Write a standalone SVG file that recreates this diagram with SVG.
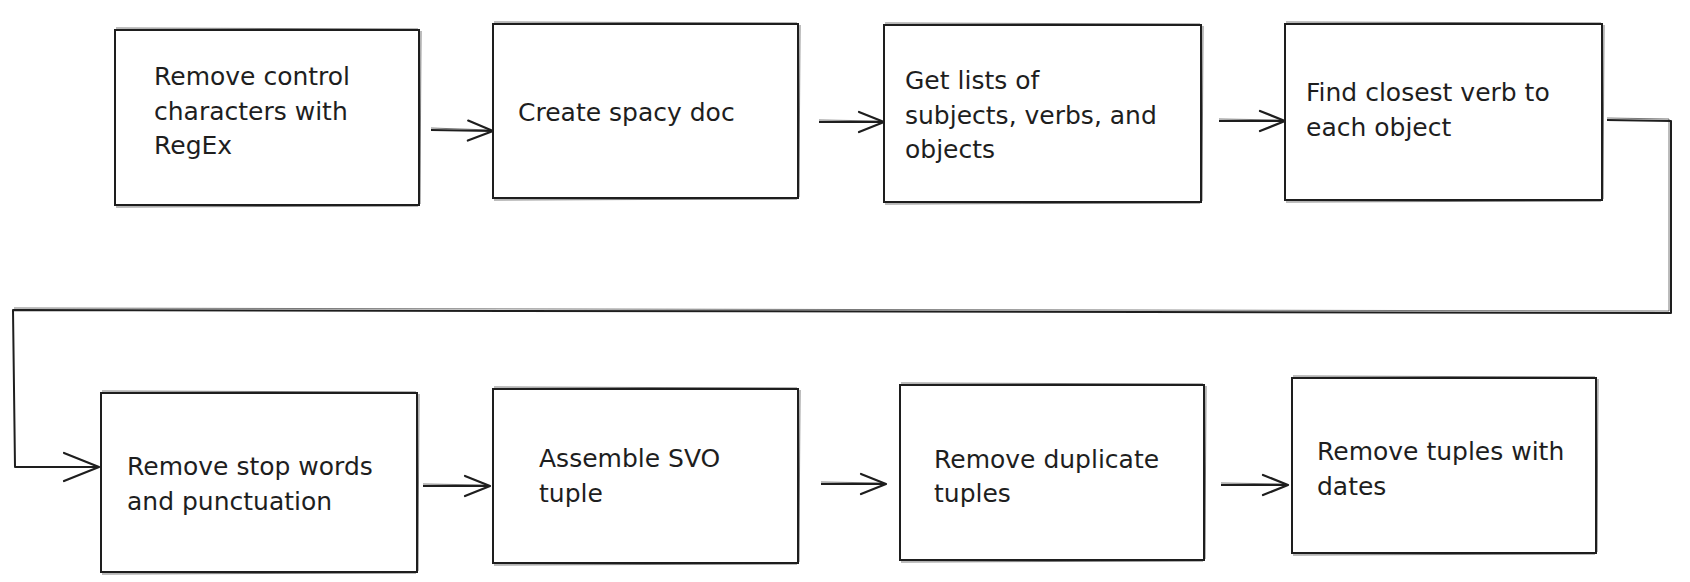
<svg xmlns="http://www.w3.org/2000/svg" width="1690" height="582" viewBox="0 0 1690 582">
<defs>
<style>
.box{fill:#fff;stroke:#1e1e1e;stroke-width:2}
.sk{fill:none;stroke:#1e1e1e;stroke-width:1;opacity:0.6}
.lbl{font-family:"DejaVu Sans","Liberation Sans",sans-serif;font-size:25px;fill:#1e1e1e}
.conn{fill:none;stroke:#1e1e1e;stroke-width:2;stroke-linejoin:round}
.conn2{fill:none;stroke:#1e1e1e;stroke-width:1;opacity:0.6}
</style>
<marker id="ah" markerWidth="30" markerHeight="26" refX="27" refY="13" orient="auto" markerUnits="userSpaceOnUse">
<path d="M2,3 L27,13 L2,23" fill="none" stroke="#1e1e1e" stroke-width="2.2" stroke-linecap="round" stroke-linejoin="round"/>
</marker>
<marker id="ahb" markerWidth="40" markerHeight="32" refX="37" refY="16" orient="auto" markerUnits="userSpaceOnUse">
<path d="M2,2 L37,16 L2,30" fill="none" stroke="#1e1e1e" stroke-width="2.2" stroke-linecap="round" stroke-linejoin="round"/>
</marker>
</defs>
<rect width="1690" height="582" fill="#fff"/>

<g id="connectors">
<path class="conn" d="M431,130 L493,131" marker-end="url(#ah)"/>
<path class="conn2" d="M431,128 L491,130"/>
<path class="conn" d="M819,122 L884,122" marker-end="url(#ah)"/>
<path class="conn2" d="M819,120 L882,121"/>
<path class="conn" d="M1219,121 L1285,121" marker-end="url(#ah)"/>
<path class="conn2" d="M1219,119 L1283,120"/>
<path class="conn" d="M1607,120 L1671,121 L1671,313 L13,310 L15,467 L99,467" marker-end="url(#ahb)"/>
<path class="conn2" d="M1607,118 L1669,119 L1669,311 L14,308"/>
<path class="conn" d="M423,486 L490,486" marker-end="url(#ah)"/>
<path class="conn2" d="M423,484 L488,485"/>
<path class="conn" d="M821,484 L886,484" marker-end="url(#ah)"/>
<path class="conn2" d="M821,482 L884,483"/>
<path class="conn" d="M1221,485 L1288,485" marker-end="url(#ah)"/>
<path class="conn2" d="M1221,483 L1286,484"/>
</g>

<g id="n1">
<rect class="box" x="115" y="30" width="304" height="175"/>
<path class="sk" d="M116,28 L418,29 M421,31 L420,204 M116,207 L418,206"/>
<text class="lbl" x="154" y="85">Remove control</text>
<text class="lbl" x="154" y="120">characters with</text>
<text class="lbl" x="154" y="154">RegEx</text>
</g>
<g id="n2">
<rect class="box" x="493" y="24" width="305" height="174"/>
<path class="sk" d="M494,22 L797,23 M800,25 L799,197 M494,200 L797,199"/>
<text class="lbl" x="518" y="121">Create spacy doc</text>
</g>
<g id="n3">
<rect class="box" x="884" y="25" width="317" height="177"/>
<path class="sk" d="M885,23 L1200,24 M1203,26 L1202,201 M885,204 L1200,203"/>
<text class="lbl" x="905" y="89">Get lists of</text>
<text class="lbl" x="905" y="124">subjects, verbs, and</text>
<text class="lbl" x="905" y="158">objects</text>
</g>
<g id="n4">
<rect class="box" x="1285" y="24" width="317" height="176"/>
<path class="sk" d="M1286,22 L1601,23 M1604,25 L1603,199 M1286,202 L1601,201"/>
<text class="lbl" x="1306" y="101">Find closest verb to</text>
<text class="lbl" x="1306" y="136">each object</text>
</g>
<g id="n5">
<rect class="box" x="101" y="393" width="316" height="179"/>
<path class="sk" d="M102,391 L416,392 M419,394 L418,571 M102,574 L416,573"/>
<text class="lbl" x="127" y="475">Remove stop words</text>
<text class="lbl" x="127" y="510">and punctuation</text>
</g>
<g id="n6">
<rect class="box" x="493" y="389" width="305" height="174"/>
<path class="sk" d="M494,387 L797,388 M800,390 L799,562 M494,565 L797,564"/>
<text class="lbl" x="539" y="467">Assemble SVO</text>
<text class="lbl" x="539" y="502">tuple</text>
</g>
<g id="n7">
<rect class="box" x="900" y="385" width="304" height="175"/>
<path class="sk" d="M901,383 L1203,384 M1206,386 L1205,559 M901,562 L1203,561"/>
<text class="lbl" x="934" y="468">Remove duplicate</text>
<text class="lbl" x="934" y="502">tuples</text>
</g>
<g id="n8">
<rect class="box" x="1292" y="378" width="304" height="175"/>
<path class="sk" d="M1293,376 L1595,377 M1598,379 L1597,552 M1293,555 L1595,554"/>
<text class="lbl" x="1317" y="460">Remove tuples with</text>
<text class="lbl" x="1317" y="495">dates</text>
</g>
</svg>
